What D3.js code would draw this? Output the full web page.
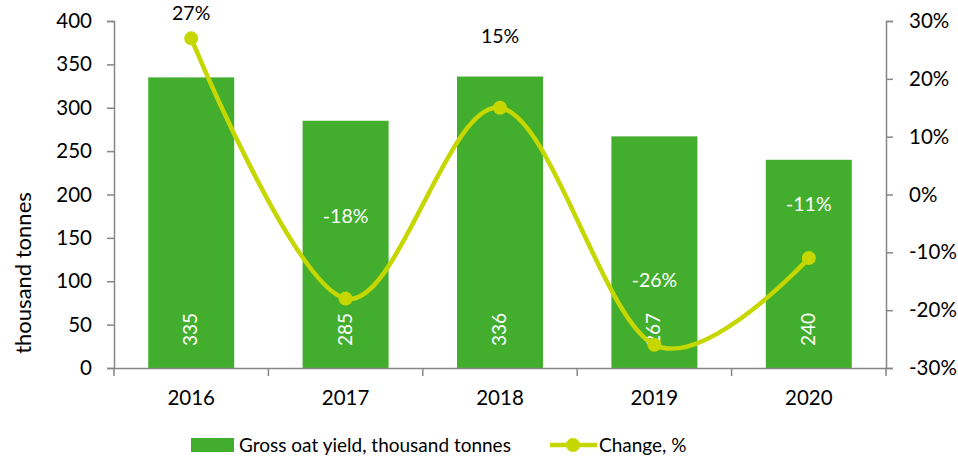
<!DOCTYPE html>
<html>
<head>
<meta charset="utf-8">
<script src="https://cdn.jsdelivr.net/npm/d3@7"></script>
<style>
  body { margin: 0; background: #fff; }
  svg text { font-family: Lato, "Open Sans", sans-serif; }
</style>
</head>
<body>
<svg id="chart"></svg>
<script>
// Data
const years = ["2016", "2017", "2018", "2019", "2020"];
const yieldValues = [335, 285, 336, 267, 240];
const changeValues = [27, -18, 15, -26, -11];
const leftTicks = [0, 50, 100, 150, 200, 250, 300, 350, 400];
const rightTicks = [-30, -20, -10, 0, 10, 20, 30];

// Label placement relative to each point (px), and label colours
const labelDy = [-18, -76, -65, -58, -47];
const labelFill = ["#000", "#fff", "#000", "#fff", "#fff"];

const W = 958, H = 462;
const margin = { top: 21, right: 72, bottom: 94, left: 114 };
const width = W - margin.left - margin.right,
      height = H - margin.top - margin.bottom;

const barColor = "#43ae2e";
const lineColor = "#c6d700";
const axisColor = "#868686";

const svg = d3.select("#chart").attr("width", W).attr("height", H);
const g = svg.append("g").attr("transform", `translate(${margin.left},${margin.top})`);

// Scales
const x = d3.scaleBand().domain(years).range([0, width]).paddingInner(0.443).paddingOuter(0.2215);
const xc = d3.scaleBand().domain(years).range([0, width]); // full category bands
const y = d3.scaleLinear().domain([0, 400]).range([height, 0]);
const y2 = d3.scaleLinear().domain([-30, 30]).range([height, 0]);

// Bars
g.selectAll(".bar")
  .data(years)
  .enter().append("rect")
  .attr("class", "bar")
  .attr("x", d => x(d))
  .attr("width", x.bandwidth())
  .attr("y", (d, i) => y(yieldValues[i]))
  .attr("height", (d, i) => height - y(yieldValues[i]))
  .attr("fill", barColor);

// Bar value labels (rotated, white)
g.selectAll(".barLabel")
  .data(years)
  .enter().append("text")
  .attr("class", "barLabel")
  .attr("transform", d => `translate(${xc(d) + xc.bandwidth() / 2 + 6},${height - 22}) rotate(-90)`)
  .attr("fill", "#fff")
  .style("font-size", "19px")
  .text((d, i) => yieldValues[i]);

// Left axis
const leftAxis = g.append("g")
  .call(d3.axisLeft(y).tickValues(leftTicks).tickSize(7).tickPadding(15));
// Right axis
const rightAxis = g.append("g")
  .attr("transform", `translate(${width},0)`)
  .call(d3.axisRight(y2).tickValues(rightTicks).tickSize(7).tickPadding(16).tickFormat(d => d + "%"));
// Bottom axis: ticks at category boundaries
const xAxis = g.append("g")
  .attr("transform", `translate(0,${height})`)
  .call(d3.axisBottom(xc).tickSize(0).tickPadding(22));
xAxis.selectAll(".bTick")
  .data(d3.range(0, years.length + 1))
  .enter().append("line")
  .attr("class", "bTick")
  .attr("x1", i => i * xc.step()).attr("x2", i => i * xc.step())
  .attr("y1", 0).attr("y2", 8);

[leftAxis, rightAxis, xAxis].forEach(a => {
  a.selectAll("path.domain").attr("stroke", axisColor).attr("stroke-width", 1.5);
  a.selectAll("line").attr("stroke", axisColor).attr("stroke-width", 1.5);
  a.selectAll("text").attr("fill", "#000").style("font-size", "20.5px").style("font-family", "Lato, sans-serif");
});

// Line of change %
const pts = years.map((d, i) => [xc(d) + xc.bandwidth() / 2, y2(changeValues[i])]);
g.append("path")
  .attr("d", d3.line().curve(d3.curveCardinal.tension(0))(pts))
  .attr("fill", "none")
  .attr("stroke", lineColor)
  .attr("stroke-width", 4.5);
g.selectAll(".dot")
  .data(pts)
  .enter().append("circle")
  .attr("cx", d => d[0]).attr("cy", d => d[1])
  .attr("r", 7)
  .attr("fill", lineColor);

// Change labels
g.selectAll(".chgLabel")
  .data(pts)
  .enter().append("text")
  .attr("x", d => d[0])
  .attr("y", (d, i) => d[1] + labelDy[i])
  .attr("text-anchor", "middle")
  .attr("fill", (d, i) => labelFill[i])
  .style("font-size", "19.5px")
  .text((d, i) => changeValues[i] + "%");

// Y axis title
svg.append("text")
  .attr("transform", "translate(31,273) rotate(-90)")
  .attr("text-anchor", "middle")
  .style("font-size", "22px")
  .text("thousand tonnes");

// Legend
const legend = svg.append("g");
legend.append("rect").attr("x", 191).attr("y", 438).attr("width", 43).attr("height", 14).attr("fill", barColor);
legend.append("text").attr("x", 239).attr("y", 452).style("font-size", "19px").text("Gross oat yield, thousand tonnes");
legend.append("line").attr("x1", 550).attr("x2", 597).attr("y1", 445).attr("y2", 445)
  .attr("stroke", lineColor).attr("stroke-width", 4.5);
legend.append("circle").attr("cx", 573).attr("cy", 445).attr("r", 7).attr("fill", lineColor);
legend.append("text").attr("x", 599).attr("y", 452).style("font-size", "19px").text("Change, %");
</script>
</body>
</html>
